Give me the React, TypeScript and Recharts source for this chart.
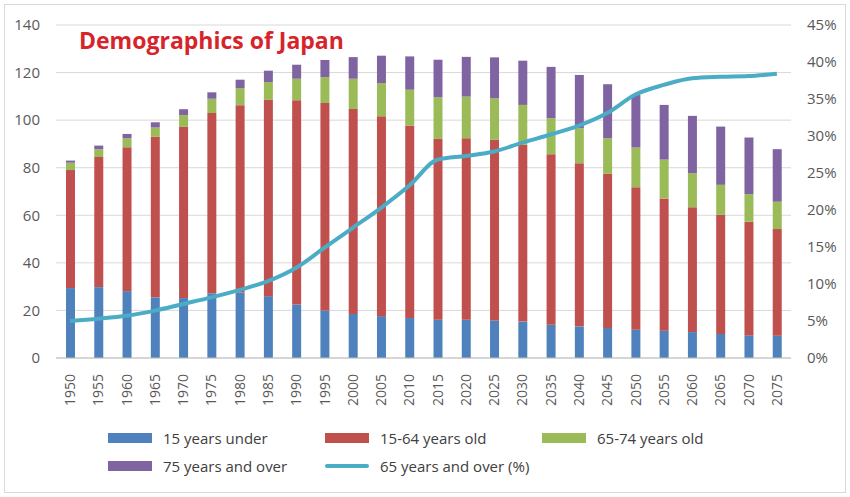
import React from 'react';
import { ComposedChart, Bar, Line, XAxis, YAxis, CartesianGrid, Legend } from 'recharts';

const years = ['1950','1955','1960','1965','1970','1975','1980','1985','1990','1995','2000','2005','2010','2015','2020','2025','2030','2035','2040','2045','2050','2055','2060','2065','2070','2075'];
const under15 = [29.4,29.8,28.1,25.5,25.2,27.2,27.5,26.0,22.5,20.0,18.5,17.6,16.8,16.1,16.1,15.8,15.3,14.0,13.3,12.6,11.9,11.5,10.9,10.1,9.5,9.4];
const age15to64 = [49.6,54.7,60.5,67.5,72.0,75.8,78.8,82.5,85.9,87.2,86.2,84.0,81.0,76.0,76.3,75.9,74.3,71.7,68.6,64.8,59.9,55.6,52.5,50.1,47.8,44.8];
const age65to74 = [3.1,3.3,3.8,3.9,4.9,6.0,7.2,7.5,9.0,10.9,12.7,14.0,15.0,17.5,17.5,17.5,16.8,15.1,14.7,15.0,16.7,16.3,14.3,12.6,11.6,11.5];
const age75over = [0.9,1.5,1.8,2.2,2.5,2.7,3.5,4.8,5.9,7.2,9.1,11.5,14.0,15.8,16.7,17.2,18.6,21.6,22.4,22.7,22.1,23.0,24.1,24.5,23.8,22.1];
const pct65over = [5.0,5.3,5.7,6.4,7.3,8.2,9.2,10.4,12.2,14.9,17.6,20.3,23.3,26.8,27.3,27.9,29.1,30.2,31.4,33.1,35.6,36.9,37.8,38.0,38.1,38.4];

const leftTicks = [0,20,40,60,80,100,120,140];
const rightTicks = [0,5,10,15,20,25,30,35,40,45];

const data = years.map((y, i) => ({
  year: y,
  under15: under15[i],
  age15to64: age15to64[i],
  age65to74: age65to74[i],
  age75over: age75over[i],
  pct: pct65over[i],
}));

const COLORS = {
  under15: '#4F81BD',
  age15to64: '#C0504D',
  age65to74: '#9BBB59',
  age75over: '#8064A2',
  pct: '#4BACC6',
};

const legendItems = [
  { key: 'under15', label: '15 years under', type: 'rect' },
  { key: 'age15to64', label: '15-64 years old', type: 'rect' },
  { key: 'age65to74', label: '65-74 years old', type: 'rect' },
  { key: 'age75over', label: '75 years and over', type: 'rect' },
  { key: 'pct', label: '65 years and over (%)', type: 'line' },
];

const FONT = '"Open Sans", "Noto Sans", sans-serif';

const LegendContent = () => (
  <div style={{ position: 'relative', width: 850, height: 56, fontFamily: FONT, fontSize: 15, color: '#404040' }}>
    {legendItems.map((it, i) => {
      const col = i % 3;
      const row = Math.floor(i / 3);
      const left = 108 + col * 217;
      const top = row * 28;
      return (
        <div key={it.key} style={{ position: 'absolute', left, top, height: 28, display: 'flex', alignItems: 'center', whiteSpace: 'nowrap' }}>
          <div style={{ width: 44, height: it.type === 'rect' ? 10 : 4, background: (COLORS as any)[it.key], borderRadius: it.type === 'line' ? 2 : 0 }} />
          <span style={{ marginLeft: 11 }}>{it.label}</span>
        </div>
      );
    })}
  </div>
);

const XTick = (props: any) => {
  const { x, y, payload } = props;
  return (
    <text x={x} y={y} transform={`rotate(-90 ${x} ${y})`} dx={-8} dy={5} textAnchor="end" fill="#595959" fontSize={14} fontFamily={FONT}>
      {payload.value}
    </text>
  );
};

export default function App() {
  return (
    <div style={{ position: 'fixed', left: 0, top: 0, width: 850, height: 497, background: '#fff' }}>
      <div style={{ position: 'absolute', left: 4, top: 4, width: 840, height: 487, border: '1px solid #D9D9D9' }} />
      <ComposedChart
        width={850}
        height={497}
        data={data}
        margin={{ top: 25, right: 4, left: 6, bottom: 17 }}
        barSize={9}
      >
        <CartesianGrid vertical={false} stroke="#D9D9D9" yAxisId="left" />
        <XAxis
          dataKey="year"
          height={66}
          tickLine={false}
          axisLine={{ stroke: '#BFBFBF' }}
          interval={0}
          tick={<XTick />}
        />
        <YAxis
          yAxisId="left"
          width={50}
          domain={[0, 140]}
          ticks={leftTicks}
          axisLine={false}
          tickLine={false}
          tick={{ fill: '#595959', fontSize: 15, fontFamily: FONT }}
          tickMargin={10}
        />
        <YAxis
          yAxisId="right"
          orientation="right"
          width={55}
          domain={[0, 45]}
          ticks={rightTicks}
          tickFormatter={(v: number) => `${v}%`}
          axisLine={false}
          tickLine={false}
          tick={{ fill: '#595959', fontSize: 15, fontFamily: FONT, textAnchor: 'start' }}
          tickMargin={10}
        />
        <Bar yAxisId="left" dataKey="under15" stackId="a" fill={COLORS.under15} isAnimationActive={false} />
        <Bar yAxisId="left" dataKey="age15to64" stackId="a" fill={COLORS.age15to64} isAnimationActive={false} />
        <Bar yAxisId="left" dataKey="age65to74" stackId="a" fill={COLORS.age65to74} isAnimationActive={false} />
        <Bar yAxisId="left" dataKey="age75over" stackId="a" fill={COLORS.age75over} isAnimationActive={false} />
        <Line
          yAxisId="right"
          type="monotone"
          dataKey="pct"
          stroke={COLORS.pct}
          strokeWidth={4}
          dot={false}
          isAnimationActive={false}
        />
        <Legend verticalAlign="bottom" wrapperStyle={{ left: 0, width: 850 }} content={<LegendContent />} />
      </ComposedChart>
      <div style={{ position: 'absolute', left: 79, top: 24, fontFamily: FONT, fontWeight: 700, fontSize: 23, color: '#D7242B' }}>
        Demographics of Japan
      </div>
    </div>
  );
}
